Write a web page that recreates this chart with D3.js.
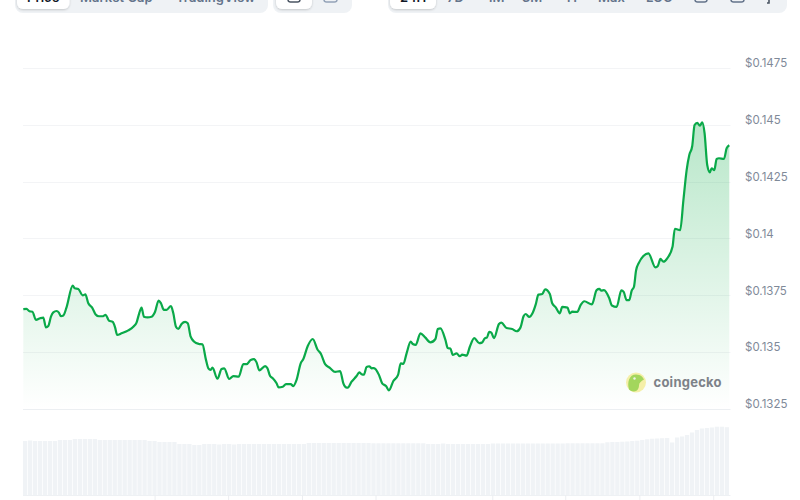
<!DOCTYPE html>
<html>
<head>
<meta charset="utf-8">
<script src="https://cdn.jsdelivr.net/npm/d3@7/dist/d3.min.js"></script>
<style>
html,body{margin:0;padding:0;background:#fff;overflow:hidden}
svg{display:block}
text{font-family:Inter,"Noto Sans",sans-serif}
</style>
</head>
<body>
<svg id="chart" width="800" height="500"></svg>
<script>
// Hours since the start of the 24H window
const hours = [0.01,0.12,0.22,0.32,0.44,0.58,0.69,0.78,0.86,0.95,1.03,1.14,1.22,1.29,1.37,1.48,1.69,1.76,1.88,2.03,2.12,2.22,2.36,2.47,2.58,2.70,2.81,2.92,3.05,3.13,3.20,3.35,3.58,3.75,3.86,3.95,4.03,4.11,4.23,4.37,4.49,4.61,4.69,4.79,4.88,5.03,5.11,5.20,5.28,5.39,5.51,5.60,5.70,5.82,5.98,6.10,6.22,6.30,6.38,6.44,6.61,6.75,6.84,7.01,7.15,7.33,7.49,7.60,7.74,7.85,7.94,8.03,8.23,8.31,8.40,8.49,8.62,8.69,8.83,8.94,9.10,9.19,9.30,9.44,9.53,9.68,9.85,10.01,10.13,10.27,10.44,10.61,10.78,10.89,10.98,11.04,11.17,11.34,11.43,11.51,11.59,11.68,11.77,11.85,11.93,12.10,12.21,12.34,12.44,12.59,12.75,12.84,12.93,13.04,13.18,13.25,13.35,13.51,13.67,13.85,14.02,14.10,14.19,14.36,14.44,14.53,14.61,14.74,14.85,14.93,15.08,15.19,15.34,15.51,15.60,15.70,15.77,15.85,15.92,16.01,16.18,16.26,16.44,16.63,16.78,16.91,17.02,17.09,17.21,17.32,17.43,17.52,17.65,17.75,17.91,17.99,18.11,18.25,18.33,18.51,18.59,18.67,18.84,18.96,19.08,19.34,19.50,19.59,19.66,19.75,19.93,20.02,20.18,20.34,20.42,20.52,20.61,20.69,20.77,20.84,20.94,21.09,21.26,21.50,21.58,21.67,21.77,21.90,22.08,22.16,22.34,22.45,22.56,22.65,22.75,22.83,22.92,23.01,23.09,23.17,23.26,23.35,23.41,23.50,23.58,23.66,23.83,23.92,24.01];
// Price in USD
const prices = [0.13689,0.13690,0.13680,0.13678,0.13642,0.13649,0.13652,0.13609,0.13615,0.13656,0.13675,0.13681,0.13674,0.13658,0.13661,0.13697,0.13793,0.13781,0.13778,0.13750,0.13754,0.13715,0.13694,0.13666,0.13658,0.13658,0.13664,0.13639,0.13633,0.13609,0.13576,0.13583,0.13596,0.13612,0.13630,0.13671,0.13696,0.13656,0.13653,0.13656,0.13678,0.13727,0.13715,0.13686,0.13686,0.13703,0.13671,0.13612,0.13602,0.13624,0.13633,0.13627,0.13568,0.13546,0.13536,0.13534,0.13466,0.13429,0.13422,0.13432,0.13383,0.13426,0.13429,0.13382,0.13395,0.13392,0.13447,0.13447,0.13466,0.13469,0.13455,0.13420,0.13439,0.13429,0.13395,0.13385,0.13363,0.13345,0.13348,0.13359,0.13359,0.13351,0.13378,0.13451,0.13470,0.13527,0.13558,0.13512,0.13492,0.13447,0.13430,0.13413,0.13417,0.13363,0.13345,0.13344,0.13370,0.13395,0.13411,0.13403,0.13401,0.13435,0.13438,0.13429,0.13430,0.13400,0.13363,0.13351,0.13332,0.13373,0.13400,0.13451,0.13448,0.13495,0.13546,0.13536,0.13532,0.13583,0.13565,0.13543,0.13558,0.13602,0.13605,0.13554,0.13518,0.13516,0.13488,0.13495,0.13482,0.13489,0.13485,0.13524,0.13562,0.13540,0.13542,0.13561,0.13564,0.13589,0.13586,0.13562,0.13624,0.13630,0.13606,0.13602,0.13592,0.13608,0.13659,0.13668,0.13655,0.13671,0.13710,0.13753,0.13756,0.13776,0.13756,0.13715,0.13697,0.13671,0.13699,0.13696,0.13671,0.13678,0.13677,0.13708,0.13724,0.13710,0.13773,0.13778,0.13771,0.13773,0.13737,0.13705,0.13699,0.13772,0.13765,0.13729,0.13729,0.13770,0.13788,0.13859,0.13894,0.13923,0.13935,0.13873,0.13879,0.13910,0.13898,0.13913,0.13964,0.14043,0.14037,0.14169,0.14301,0.14367,0.14407,0.14499,0.14509,0.14496,0.14511,0.14463,0.14323,0.14291,0.14309,0.14301,0.14350,0.14353,0.14350,0.14397,0.14410];
// Volume, arbitrary units, one value per bar
const volumes = [54,54.5,54,54,54,54,54,55,55,55,56,56,56,56,56,55,55,55,55,55,55,55,55,55,55,54,54,53,53,53,53,51,51,51,50,50,51,51,51,50.5,51,51,50.5,51,51,51,51,51,51,51,51,51,51,51,51,51,51,52,52,52,52,52,52,52,52,52,52,52,52,52,51.7,51.7,51.7,51.7,51.7,51.7,51.7,51.7,51.7,51.7,51.7,51,51,51,51.5,51,51,51,51,51,51,51,51,51,51.5,51.5,51.5,51.5,51.5,51.5,51.5,51.5,51.5,51.5,51.5,51.5,51.5,51.5,51.5,51.7,51.7,51.7,51.7,51.7,51.7,51.7,51.7,52.7,53,53,53.3,53.5,54,54.3,55,55.7,56.3,56.5,56.8,57,52.5,57.5,58.5,60,62.5,65,66.5,67,67.5,68.3,68.3,67.8];
// Price axis
const priceTicks = [0.1325,0.135,0.1375,0.14,0.1425,0.145,0.1475];
const priceTickLabels = ["$0.1325","$0.135","$0.1375","$0.14","$0.1425","$0.145","$0.1475"];
// Time ticks (hours) — labels fall outside the frame
const timeTicks = [4.49,6.99,9.5,12.0,15.97,18.45,20.97,23.48];
// Toolbar
const chartTabs = ["Price","Market Cap","TradingView"];
const rangeTabs = ["24H","7D","1M","3M","1Y","Max","LOG"];

const svg = d3.select("#chart");
const left = 23;
const x = d3.scaleLinear().domain([0,24]).range([left,left+706]);
const y = d3.scaleLinear().domain([0.1325,0.1475]).range([409,68]);
const yVol = d3.scaleLinear().domain([0,68.5]).range([495,426.5]);
const xBand = d3.scaleBand().domain(d3.range(volumes.length)).range([left,left+706]).paddingInner(0.14);
const points = hours.map((h,i)=>({h,p:prices[i]}));

const defs = svg.append("defs");
const grad = defs.append("linearGradient").attr("id","areaFill")
  .attr("gradientUnits","userSpaceOnUse").attr("x1",0).attr("x2",0)
  .attr("y1",y(d3.max(prices))).attr("y2",y(0.1325));
grad.append("stop").attr("offset",0).attr("stop-color","#00a83e").attr("stop-opacity",0.28);
grad.append("stop").attr("offset",1).attr("stop-color","#00a83e").attr("stop-opacity",0);
const shadow = defs.append("filter").attr("id","btnShadow").attr("x","-10%").attr("y","-30%").attr("width","120%").attr("height","170%");
shadow.append("feDropShadow").attr("dx",0).attr("dy",1).attr("stdDeviation",1.2).attr("flood-color","#000").attr("flood-opacity",0.18);

// Toolbar, clipped by the top of the frame
const bar = svg.append("g");
function pill(x0,x1,yb,fill,r,filt){
  const s = bar.append("rect").attr("x",x0).attr("y",-30).attr("width",x1-x0).attr("height",yb+30).attr("rx",r).attr("fill",fill);
  if(filt) s.attr("filter","url(#btnShadow)");
}
pill(15,268,13,"#eff2f5",8);
pill(17,69.5,9,"#fff",6,true);
pill(273,352,13,"#eff2f5",8);
pill(276,312,9,"#fff",6,true);
pill(388,787,13,"#eff2f5",8);
pill(390,436,9,"#fff",6,true);
const tabX = [27,80,176];
chartTabs.forEach((t,i)=>bar.append("text").attr("x",tabX[i]).attr("y",1.8).attr("font-size",13).attr("font-weight",600).attr("fill",i?"#64748b":"#111827").text(t));
const rangeX = [400,447,487,522,565,598,646];
rangeTabs.forEach((t,i)=>bar.append("text").attr("x",rangeX[i]).attr("y",1.8).attr("font-size",13).attr("font-weight",600).attr("fill",i?"#64748b":"#111827").text(t));
// toolbar icons, only their lower edges show
[[288,300,"#4b5563"],[324,337,"#94a3b8"],[695,707,"#64748b"],[731,744,"#64748b"]].forEach(d=>{
  bar.append("rect").attr("x",d[0]).attr("y",-8).attr("width",d[1]-d[0]).attr("height",10).attr("rx",2.5).attr("fill","none").attr("stroke",d[2]).attr("stroke-width",1.5);
});
bar.append("path").attr("d","M769,-2V3H767").attr("fill","none").attr("stroke","#4b5563").attr("stroke-width",1.6);

// Grid
svg.append("g").selectAll("line").data(priceTicks).join("line")
  .attr("x1",left).attr("x2",730.5)
  .attr("y1",d=>Math.round(y(d))+0.5).attr("y2",d=>Math.round(y(d))+0.5)
  .attr("stroke",d=>d===0.1325?"#eceff2":"#f3f4f6").attr("stroke-width",1);

// Volume bars
svg.append("g").selectAll("rect").data(volumes).join("rect")
  .attr("x",(d,i)=>xBand(i)).attr("width",xBand.bandwidth())
  .attr("y",d=>yVol(d)).attr("height",d=>495-yVol(d)).attr("fill","#f0f3f6");
svg.append("line").attr("x1",left).attr("x2",730.5).attr("y1",495.5).attr("y2",495.5).attr("stroke","#eef1f4");

// Time axis ticks (no labels visible)
svg.append("g").selectAll("line").data(timeTicks).join("line")
  .attr("x1",d=>x(d)).attr("x2",d=>x(d)).attr("y1",495).attr("y2",500).attr("stroke","#eceef1");

// Price area + line
const curve = d3.curveMonotoneX;
svg.append("path").datum(points)
  .attr("d",d3.area().x(d=>x(d.h)).y0(y(0.1325)).y1(d=>y(d.p)).curve(curve))
  .attr("fill","url(#areaFill)");
svg.append("path").datum(points)
  .attr("d",d3.line().x(d=>x(d.h)).y(d=>y(d.p)).curve(curve))
  .attr("fill","none").attr("stroke","#0aa949").attr("stroke-width",2.2).attr("stroke-linejoin","round");

// Price labels
svg.append("g").selectAll("text").data(priceTicks).join("text")
  .attr("x",745).attr("y",d=>y(d)-1.5+0.8).attr("text-anchor","start")
  .attr("font-size",11.5).attr("fill","#7f8a99").text((d,i)=>priceTickLabels[i]);

// Watermark
const wm = svg.append("g").attr("transform","translate(636,382.5)");
wm.append("circle").attr("r",10).attr("fill","#f5efa8");
wm.append("path").attr("d","M-7,7C-9,0 -7,-8 0,-8C5,-8 7,-5 8,-3C5,-1 3,0 3,3C3,6 1,9 -2,9C-4,9 -6,8 -7,7Z").attr("fill","#a3d65c");
wm.append("circle").attr("cx",-1.5).attr("cy",-4).attr("r",1.2).attr("fill","#eef2e6");
svg.append("text").attr("x",653.5).attr("y",386.5).attr("font-size",13).attr("font-weight",700).attr("letter-spacing",0.25).attr("fill","#7d8288").text("coingecko");
</script>
</body>
</html>
